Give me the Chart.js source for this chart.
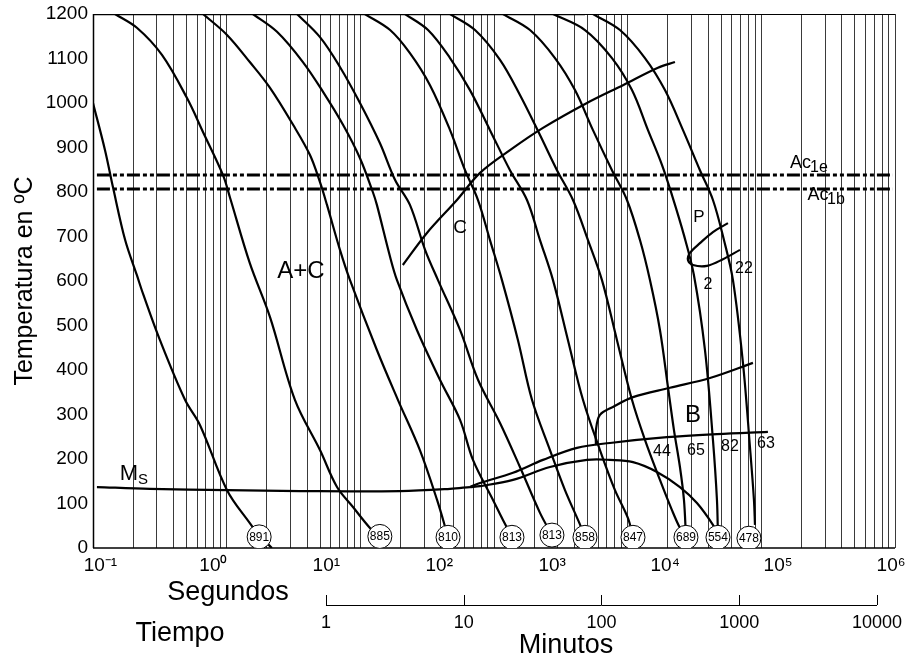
<!DOCTYPE html>
<html lang="es">
<head>
<meta charset="UTF-8">
<title>Diagrama de enfriamiento continuo</title>
<script src="https://cdn.jsdelivr.net/npm/chart.js"></script>
<style>
  body { margin: 0; background: #fff; }
  canvas { display: block; }
</style>
</head>
<body>
<canvas id="cct" width="910" height="662"></canvas>
<script>
// curvas de enfriamiento: [tiempo (s), temperatura (ºC)]
const c891 = [[1,1000],[1.23,894],[1.41,811],[1.74,692],[2.13,613],[2.37,571],[3.17,467],[4.88,333],[6.32,276],[10.06,130],[14.9,56],[17.5,29],[21.8,0]];
const c885 = [[1.46,1200],[2.13,1169],[3.28,1108],[5.05,1011],[6.65,935],[9.39,838],[10.6,787],[14.9,640],[21.1,519],[32.4,333],[49.9,220],[66.9,137],[88.1,92],[118,45],[140,25]];
const c810 = [[6.65,1200],[10.06,1153],[14.9,1092],[21.1,1034],[31.4,951],[42.0,883],[49.9,822],[56.3,771],[70.4,670],[83.7,602],[133,445],[191,333],[279,220],[375,108],[453,25]];
const c813a = [[15.7,1200],[23.8,1160],[37.2,1092],[52.6,1025],[74.2,951],[99.4,876],[124,800],[133,771],[167,654],[188,602],[265,490],[394,378],[557,288],[696,198],[983,108],[1167,63],[1363,25]];
const c813b = [[33.6,1200],[49.9,1148],[70.4,1081],[99.4,1000],[140,910],[182,827],[235,771],[305,670],[381,602],[557,490],[759,378],[1109,281],[1564,182],[2208,79],[2714,29]];
const c858 = [[108,1200],[167,1164],[235,1112],[332,1040],[469,939],[607,849],[759,782],[933,692],[1147,602],[1511,467],[1924,333],[2623,220],[3396,130],[4323,58],[4793,25]];
const c847 = [[216,1200],[321,1164],[469,1101],[661,1029],[933,939],[1317,849],[1765,782],[2208,692],[2762,602],[3576,467],[4630,333],[6204,220],[8035,130],[10050,67],[10960,25]];
const c689a = [[469,1200],[721,1164],[1109,1097],[1564,1018],[2208,928],[2959,849],[3898,782],[5047,692],[6423,602],[8317,467],[10770,333],[13470,243],[17440,153],[21450,85],[24610,45],[27300,25]];
const c689b = [[1167,1200],[1859,1164],[2859,1101],[4035,1029],[5501,939],[7630,849],[9878,782],[12360,692],[14680,602],[17440,490],[20010,362],[22200,265],[24610,182],[26370,108],[27300,25]];
const c554 = [[2762,1200],[4793,1164],[7630,1101],[10770,1029],[14190,939],[18050,861],[21450,793],[26370,703],[31320,613],[37860,445],[43450,243],[46560,108],[47370,25]];
const c478 = [[5501,1200],[8757,1164],[13470,1101],[19010,1029],[25940,939],[34730,849],[43450,782],[52520,692],[61330,602],[72850,416],[82200,227],[88060,108],[89610,52]];

// lineas de transformacion
const lineaMs = [[1.07,137],[2.67,133],[10.06,130],[35.4,128],[198,128],[469,133],[661,137]];
const inicioB = [[661,137],[786,146],[1387,169],[2325,198],[4175,225],[7372,236],[19670,249],[46560,256],[112000,261]];
const finB = [[661,137],[786,139],[1387,153],[2623,182],[4961,198],[7372,198],[10960,193],[16560,171],[24610,137],[32990,101],[43450,52],[47370,29]];
const bainitaSup = [[5790,231],[5790,265],[6204,299],[7762,317],[10960,339],[20720,360],[41270,382],[86550,416]];
const curvaC = [[208,636],[315,708],[528,782],[786,843],[1317,894],[2325,944],[4961,1000],[9222,1040],[16850,1079],[22580,1092]];
const curvaP = [[56270,730],[43450,710],[34730,685],[29240,663],[28250,647],[30800,636],[39180,634],[51620,649],[69180,670]];
const lineaTope = [[1,1200],[4790,1200]];
const ac1e = 838, ac1b = 807;
const acDesde = 1.07, acHasta = 966000;

// durezas al final de cada curva
const durezas = ['891','885','810','813','813','858','847','689','554','478'];
const tDureza = [17.5,140,453,1363,2714,4793,10960,27300,47370,80790];
const TDureza = [25,26,24,24,29,24,24,24,24,22];

// rotulos [texto, tiempo, temperatura]
const rotulos = [['A+C',36.0,622],['C',557,719],['P',34170,742],['2',39900,591],['22',74200,629],['B',30800,297],
  ['44',18050,216],['65',32420,218],['82',58240,229],['63',108300,234],['M',1.86,166],['S',2.37,153],
  ['Ac',196000,865],['1e',270000,854],['Ac',265300,793],['1b',361800,782]];
const tamRotulo = [24,19,17,16,16,24,16,16,16,16,22,15,18,16,18,16];

// ejes
const expSeg = [-1,0,1,2,3,4,5,6];
const etiqSeg = ['10⁻¹','10⁰','10¹','10²','10³','10⁴','10⁵','10⁶'];
const minutos = [1,10,100,1000,10000];
const etiqMin = ['1','10','100','1000','10000'];

const gridVals = [];
for (let d = 0; d < 6; d++) for (let m = 1; m < 10; m++) gridVals.push(m * Math.pow(10, d));
gridVals.push(1e6);

const FONT = "'Liberation Sans', Arial, sans-serif";
Chart.defaults.font.family = FONT;
Chart.defaults.color = '#000';

function curva(data, extra) {
  return Object.assign({ data, borderColor: '#000', borderWidth: 2.2, pointRadius: 0, tension: 0.35, fill: false }, extra || {});
}

const extras = {
  id: 'extras',
  beforeDatasetsDraw(chart) {
    const { ctx, chartArea: a } = chart;
    ctx.save();
    ctx.strokeStyle = '#000';
    ctx.lineWidth = 1;
    ctx.beginPath(); ctx.moveTo(a.left, a.top + 0.5); ctx.lineTo(a.right, a.top + 0.5); ctx.stroke();
    ctx.lineWidth = 1.5;
    ctx.beginPath(); ctx.moveTo(a.left, a.bottom); ctx.lineTo(a.right, a.bottom); ctx.stroke();
    ctx.beginPath(); ctx.moveTo(a.left + 0.5, a.top); ctx.lineTo(a.left + 0.5, a.bottom); ctx.stroke();
    ctx.restore();
  },
  afterDatasetsDraw(chart) {
    const { ctx, scales } = chart;
    const { x, y, xm } = scales;
    ctx.save();
    ctx.fillStyle = '#000';
    ctx.textAlign = 'center';
    ctx.textBaseline = 'middle';
    // numeros de dureza
    ctx.font = '12px ' + FONT;
    chart.getDatasetMeta(0).data.forEach((pt, i) => ctx.fillText(durezas[i], pt.x, pt.y + 0.5));
    // rotulos
    rotulos.forEach((r, i) => {
      ctx.font = tamRotulo[i] + 'px ' + FONT;
      ctx.fillText(r[0], x.getPixelForValue(r[1]), y.getPixelForValue(r[2]));
    });
    // eje de minutos
    const yl = 605;
    ctx.strokeStyle = '#000';
    ctx.lineWidth = 1;
    ctx.beginPath();
    ctx.moveTo(xm.getPixelForValue(minutos[0]), yl + 0.5);
    ctx.lineTo(xm.getPixelForValue(minutos[minutos.length - 1]), yl + 0.5);
    minutos.forEach(m => {
      const px = Math.round(xm.getPixelForValue(m)) + 0.5;
      ctx.moveTo(px, yl); ctx.lineTo(px, yl - 10);
    });
    ctx.stroke();
    ctx.textBaseline = 'alphabetic';
    ctx.font = '18px ' + FONT;
    minutos.forEach((m, i) => ctx.fillText(etiqMin[i], xm.getPixelForValue(m), 628));
    ctx.font = '27px ' + FONT;
    ctx.fillText('Segundos', 228, 600);
    ctx.fillText('Tiempo', 180, 641);
    ctx.fillText('Minutos', 566, 653);
    ctx.restore();
  }
};

new Chart(document.getElementById('cct'), {
  type: 'line',
  data: {
    datasets: [
      { data: tDureza.map((t, i) => [t, TDureza[i]]), showLine: false, pointRadius: 12,
        pointBackgroundColor: '#fff', pointBorderColor: '#000', pointBorderWidth: 1, order: -1 },
      curva(c891), curva(c885), curva(c810), curva(c813a), curva(c813b), curva(c858),
      curva(c847), curva(c689a), curva(c689b), curva(c554), curva(c478),
      curva(lineaMs), curva(inicioB), curva(finB), curva(bainitaSup), curva(curvaC), curva(curvaP),
      curva(lineaTope, { borderWidth: 2.5, tension: 0 }),
      curva([[acDesde, ac1e], [acHasta, ac1e]], { borderWidth: 3, tension: 0, borderDash: [13, 3, 4, 3, 4, 3] }),
      curva([[acDesde, ac1b], [acHasta, ac1b]], { borderWidth: 3, tension: 0, borderDash: [13, 3, 4, 3, 4, 3] })
    ]
  },
  options: {
    responsive: false,
    animation: false,
    events: [],
    layout: { padding: { left: 0, right: 15, top: 14, bottom: 0 } },
    plugins: { legend: { display: false }, tooltip: { enabled: false } },
    scales: {
      x: {
        type: 'logarithmic', min: 1, max: 1e6, position: 'bottom',
        afterBuildTicks: s => { s.ticks = gridVals.map(v => ({ value: v })); },
        grid: { color: '#3a3a3a', lineWidth: 1, drawTicks: false },
        border: { display: false },
        ticks: { display: false },
        afterFit: s => { s.height = 0; s.paddingLeft = 0; s.paddingRight = 0; }
      },
      xs: {
        type: 'logarithmic', min: 0.0859, max: 1084000, position: 'bottom',
        afterBuildTicks: s => { s.ticks = expSeg.map(e => ({ value: Math.pow(10, e) })); },
        grid: { display: false, drawTicks: false },
        border: { display: false },
        ticks: { autoSkip: false, maxRotation: 0, padding: 6, font: { size: 19 }, color: '#000',
                 callback: (v, i) => etiqSeg[i] },
        afterFit: s => { s.height = 114; s.paddingLeft = 0; s.paddingRight = 0; }
      },
      xm: { type: 'logarithmic', display: false, min: 0.02035, max: 13510 },
      y: {
        min: 0, max: 1200,
        ticks: { stepSize: 100, padding: 5, font: { size: 19 }, color: '#000', callback: v => String(v) },
        grid: { display: false, drawTicks: false },
        border: { display: false },
        title: { display: true, text: 'Temperatura en ºC', font: { size: 25 }, color: '#000', padding: { top: 10, bottom: 0 } },
        afterFit: s => { s.width = 93; s.paddingTop = 0; s.paddingBottom = 0; }
      }
    }
  },
  plugins: [extras]
});
</script>
</body>
</html>
